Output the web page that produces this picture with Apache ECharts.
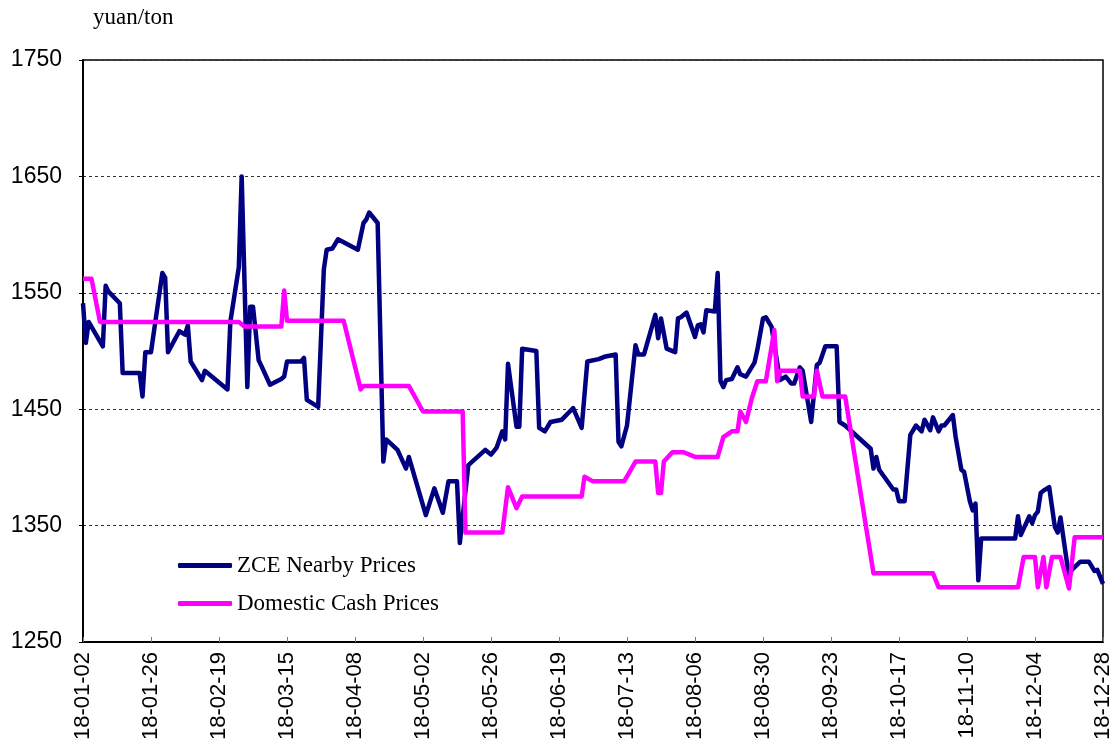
<!DOCTYPE html>
<html>
<head>
<meta charset="utf-8">
<script src="https://cdn.jsdelivr.net/npm/echarts@6/dist/echarts.min.js"></script>
<style>
  html, body { margin: 0; padding: 0; background: #fff; }
  #chart { width: 1118px; height: 749px; }
</style>
</head>
<body>
<div id="chart"></div>
<script>
// days counted from 2018-01-02 (the first date on the axis)
const startDate = new Date(2018, 0, 2)
const tickStep = 24
const lastDay = 360

const zceDays = [0, 1, 2, 7, 8, 9, 13, 14, 20, 21, 22, 24, 28, 29, 30, 34, 36, 37, 38, 42, 43, 51, 52, 55, 56, 58, 59, 60,
  62, 63, 66, 70, 71, 72, 77, 78, 79, 83, 85, 86, 88, 90, 97, 99, 100, 101, 104, 106, 107, 111, 114, 115,
  121, 124, 127, 129, 132, 133, 136, 142, 144, 146, 148, 149, 150, 153, 154, 155, 160, 161, 163, 165, 169, 173, 176, 178, 182,
  184, 188, 189, 190, 192, 195, 196, 198, 202, 203, 204, 206, 209, 210, 211, 213, 216, 217, 218, 219, 220, 223, 224, 225, 226, 227, 229, 231, 232, 234, 237, 238,
  240, 241, 243, 246, 248, 250, 251, 253, 254, 257, 259, 260, 262, 266, 267, 269, 278, 279, 280, 281, 286, 287, 288, 290, 292, 294, 296, 297, 299,
  300, 302, 303, 304, 307, 308, 310, 311, 313, 314, 315, 316, 317, 329, 330, 331, 334, 335, 336, 337, 338, 339, 341, 343, 344, 345, 348, 349, 352, 355, 357, 358, 360]
const zcePrices = [1541, 1507, 1525, 1504, 1556, 1551, 1541, 1481, 1481, 1461, 1499, 1499, 1567, 1563, 1499, 1517, 1514, 1522, 1491, 1475, 1483, 1467, 1525, 1572, 1650, 1469, 1538, 1538,
  1492, 1487, 1471, 1476, 1478, 1491, 1491, 1494, 1458, 1452, 1570, 1587, 1588, 1596, 1587, 1610, 1613, 1619, 1610, 1405, 1424, 1415, 1399, 1409,
  1359, 1382, 1361, 1388, 1388, 1335, 1402, 1415, 1411, 1417, 1431, 1424, 1489, 1435, 1435, 1502, 1500, 1434, 1431, 1439, 1441, 1451, 1434, 1491, 1493,
  1495, 1497, 1422, 1418, 1436, 1505, 1497, 1497, 1531, 1511, 1528, 1502, 1499, 1528, 1529, 1533, 1512, 1522, 1523, 1516, 1535, 1534, 1567, 1474, 1469, 1475, 1476, 1486, 1480, 1478, 1490, 1501,
  1528, 1529, 1521, 1475, 1478, 1472, 1472, 1486, 1483, 1439, 1488, 1490, 1504, 1504, 1439, 1436, 1416, 1399, 1409, 1398, 1381, 1381, 1371, 1371, 1428, 1436, 1431, 1441, 1432,
  1443, 1431, 1436, 1436, 1445, 1426, 1398, 1396, 1371, 1363, 1369, 1303, 1339, 1339, 1358, 1342, 1358, 1352, 1359, 1362, 1378, 1380, 1383, 1349, 1344, 1357, 1306, 1312, 1319, 1319, 1311, 1312, 1300]

const cashDays = [0, 3, 6, 55, 57, 70, 71, 72, 92, 98, 99, 115, 120, 134, 135, 148, 150, 153, 155, 176, 177, 180, 191, 195, 202, 203, 204, 205,
  208, 212, 216, 224, 226, 229, 231, 232, 234, 236, 238, 241, 244, 245, 246, 253, 254, 258, 259, 261, 269, 279, 300, 302,
  330, 332, 336, 337, 339, 340, 342, 345, 348, 350, 360]
const cashPrices = [1562, 1562, 1525, 1525, 1521, 1521, 1552, 1526, 1526, 1467, 1470, 1470, 1448, 1448, 1344, 1344, 1383, 1365, 1375, 1375, 1392, 1388, 1388, 1405, 1405, 1378, 1378, 1405,
  1413, 1413, 1409, 1409, 1426, 1431, 1431, 1448, 1439, 1459, 1474, 1474, 1518, 1474, 1483, 1483, 1461, 1461, 1483, 1461, 1461, 1309, 1309, 1297,
  1297, 1323, 1323, 1297, 1323, 1297, 1323, 1323, 1296, 1340, 1340]

const yTicks = [1250, 1350, 1450, 1550, 1650, 1750]

function dayLabel(d) {
  const t = new Date(startDate.getTime() + d * 86400000)
  const p = n => String(n).padStart(2, '0')
  return p(t.getFullYear() % 100) + '-' + p(t.getMonth() + 1) + '-' + p(t.getDate())
}

function pairs(xs, ys) {
  return xs.map((x, i) => [x, ys[i]])
}

const chart = echarts.init(document.getElementById('chart'))

const option = {
  animation: false,
  backgroundColor: '#fff',
  title: {
    text: 'yuan/ton',
    left: 88,
    top: 1,
    textStyle: {
      fontFamily: 'Liberation Serif',
      fontSize: 23,
      fontWeight: 'normal',
      color: '#000'
    }
  },
  legend: {
    orient: 'vertical',
    left: 173,
    top: 549,
    icon: 'roundRect',
    itemWidth: 54,
    itemHeight: 5,
    itemGap: 15,
    textStyle: {
      fontFamily: 'Liberation Serif',
      fontSize: 23,
      color: '#000'
    },
    data: ['ZCE Nearby Prices', 'Domestic Cash Prices']
  },
  grid: {
    left: 83,
    right: 15,
    top: 60,
    bottom: 107,
    show: true,
    borderColor: '#000',
    borderWidth: 1.5
  },
  xAxis: {
    type: 'value',
    min: 0,
    max: lastDay,
    interval: tickStep,
    axisLine: { show: true, onZero: false, lineStyle: { color: '#000', width: 2 } },
    axisTick: { show: true, inside: true, length: 5, lineStyle: { color: '#777' } },
    splitLine: { show: false },
    axisLabel: {
      rotate: 90,
      margin: 10,
      fontFamily: 'Liberation Sans',
      fontSize: 22,
      color: '#000',
      formatter: v => dayLabel(v)
    }
  },
  yAxis: {
    type: 'value',
    min: yTicks[0],
    max: yTicks[yTicks.length - 1],
    interval: 100,
    axisLine: { show: true, lineStyle: { color: '#000', width: 2 } },
    axisTick: { show: true, length: 4, lineStyle: { color: '#000' } },
    splitLine: { show: true, lineStyle: { color: '#333', type: [3, 3], width: 1 } },
    axisLabel: {
      margin: 21,
      fontFamily: 'Liberation Sans',
      fontSize: 23,
      color: '#000',
      formatter: v => String(v)
    }
  },
  series: [
    {
      name: 'ZCE Nearby Prices',
      type: 'line',
      symbol: 'none',
      data: pairs(zceDays, zcePrices),
      itemStyle: { color: '#000080' },
      lineStyle: { color: '#000080', width: 4.5, join: 'round' }
    },
    {
      name: 'Domestic Cash Prices',
      type: 'line',
      symbol: 'none',
      data: pairs(cashDays, cashPrices),
      itemStyle: { color: '#ff00ff' },
      lineStyle: { color: '#ff00ff', width: 4.5, join: 'round' }
    }
  ]
}

chart.setOption(option)
</script>
</body>
</html>
